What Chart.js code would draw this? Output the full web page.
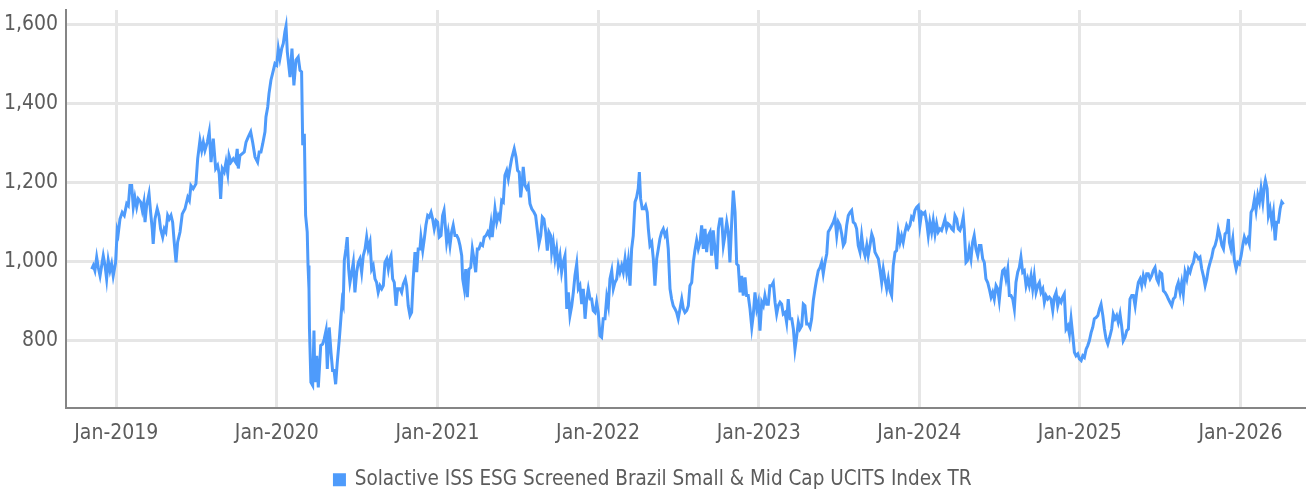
<!DOCTYPE html>
<html>
<head>
<meta charset="utf-8">
<title>Solactive ISS ESG Screened Brazil Small & Mid Cap UCITS Index TR</title>
<script src="https://cdn.jsdelivr.net/npm/chart.js@4.4.1/dist/chart.umd.min.js"></script>
<style>
    html, body { margin: 0; padding: 0; background: #fff; }
    #wrap { width: 1306px; height: 490px; position: relative; }
</style>
</head>
<body>
<div id="wrap"><canvas id="indexChart"></canvas></div>
<script>
// series name + axis ticks
const seriesName = 'Solactive ISS ESG Screened Brazil Small & Mid Cap UCITS Index TR';
const yearTicks = [2019, 2020, 2021, 2022, 2023, 2024, 2025, 2026];
const valueTicks = [800, 1000, 1200, 1400, 1600];

// dates as decimal years
const dates = [
    2018.847, 2018.857, 2018.867, 2018.878, 2018.888, 2018.899, 2018.919, 2018.930, 2018.940, 2018.950, 2018.961, 2018.971,
    2018.981, 2018.996, 2019.006, 2019.012, 2019.023, 2019.037, 2019.050, 2019.065, 2019.075, 2019.085, 2019.096, 2019.106,
    2019.116, 2019.127, 2019.137, 2019.152, 2019.162, 2019.172, 2019.179, 2019.189, 2019.204, 2019.214, 2019.224, 2019.230,
    2019.241, 2019.255, 2019.266, 2019.276, 2019.289, 2019.299, 2019.309, 2019.320, 2019.330, 2019.341, 2019.351, 2019.361,
    2019.372, 2019.382, 2019.397, 2019.411, 2019.428, 2019.445, 2019.455, 2019.465, 2019.479, 2019.496, 2019.507, 2019.521,
    2019.532, 2019.542, 2019.552, 2019.567, 2019.579, 2019.590, 2019.604, 2019.619, 2019.631, 2019.641, 2019.650, 2019.660,
    2019.672, 2019.683, 2019.694, 2019.702, 2019.714, 2019.729, 2019.743, 2019.753, 2019.760, 2019.770, 2019.785, 2019.797,
    2019.808, 2019.822, 2019.837, 2019.849, 2019.864, 2019.880, 2019.890, 2019.901, 2019.912, 2019.926, 2019.932, 2019.943,
    2019.951, 2019.963, 2019.978, 2019.988, 2019.999, 2020.009, 2020.019, 2020.030, 2020.040, 2020.050, 2020.057, 2020.065,
    2020.082, 2020.094, 2020.106, 2020.119, 2020.133, 2020.144, 2020.154, 2020.161, 2020.171, 2020.179, 2020.189, 2020.194,
    2020.200, 2020.203, 2020.212, 2020.223, 2020.231, 2020.237, 2020.248, 2020.258, 2020.273, 2020.285, 2020.295, 2020.306,
    2020.314, 2020.326, 2020.337, 2020.347, 2020.356, 2020.366, 2020.376, 2020.389, 2020.399, 2020.407, 2020.413, 2020.420,
    2020.430, 2020.438, 2020.447, 2020.455, 2020.466, 2020.476, 2020.486, 2020.497, 2020.507, 2020.517, 2020.528, 2020.538,
    2020.549, 2020.559, 2020.569, 2020.580, 2020.590, 2020.600, 2020.611, 2020.621, 2020.631, 2020.642, 2020.653, 2020.663,
    2020.673, 2020.684, 2020.694, 2020.704, 2020.711, 2020.721, 2020.731, 2020.742, 2020.752, 2020.767, 2020.777, 2020.787,
    2020.800, 2020.808, 2020.818, 2020.829, 2020.839, 2020.849, 2020.860, 2020.871, 2020.880, 2020.891, 2020.897, 2020.908,
    2020.918, 2020.928, 2020.939, 2020.949, 2020.960, 2020.970, 2020.980, 2020.991, 2021.001, 2021.011, 2021.022, 2021.032,
    2021.041, 2021.047, 2021.057, 2021.067, 2021.078, 2021.088, 2021.098, 2021.109, 2021.120, 2021.130, 2021.140, 2021.151,
    2021.157, 2021.167, 2021.176, 2021.186, 2021.196, 2021.207, 2021.217, 2021.227, 2021.238, 2021.248, 2021.258, 2021.269,
    2021.281, 2021.291, 2021.302, 2021.313, 2021.323, 2021.333, 2021.341, 2021.358, 2021.369, 2021.379, 2021.389, 2021.400,
    2021.410, 2021.420, 2021.431, 2021.441, 2021.451, 2021.462, 2021.478, 2021.489, 2021.499, 2021.509, 2021.518, 2021.528,
    2021.534, 2021.545, 2021.555, 2021.565, 2021.576, 2021.587, 2021.601, 2021.611, 2021.621, 2021.632, 2021.643, 2021.653,
    2021.663, 2021.674, 2021.684, 2021.694, 2021.705, 2021.711, 2021.721, 2021.732, 2021.742, 2021.752, 2021.763, 2021.773,
    2021.783, 2021.794, 2021.805, 2021.815, 2021.825, 2021.836, 2021.846, 2021.856, 2021.867, 2021.877, 2021.887, 2021.898,
    2021.908, 2021.919, 2021.929, 2021.939, 2021.950, 2021.960, 2021.970, 2021.981, 2021.991, 2022.001, 2022.012, 2022.022,
    2022.032, 2022.043, 2022.054, 2022.064, 2022.074, 2022.085, 2022.095, 2022.105, 2022.116, 2022.126, 2022.136, 2022.147,
    2022.157, 2022.168, 2022.178, 2022.188, 2022.199, 2022.209, 2022.219, 2022.230, 2022.240, 2022.250, 2022.257, 2022.265,
    2022.275, 2022.286, 2022.296, 2022.306, 2022.313, 2022.323, 2022.334, 2022.344, 2022.354, 2022.365, 2022.375, 2022.385,
    2022.396, 2022.406, 2022.417, 2022.427, 2022.437, 2022.448, 2022.458, 2022.468, 2022.479, 2022.489, 2022.499, 2022.510,
    2022.521, 2022.531, 2022.541, 2022.552, 2022.562, 2022.572, 2022.583, 2022.593, 2022.603, 2022.614, 2022.624, 2022.635,
    2022.645, 2022.655, 2022.666, 2022.676, 2022.686, 2022.697, 2022.707, 2022.717, 2022.728, 2022.739, 2022.749, 2022.759,
    2022.770, 2022.780, 2022.790, 2022.801, 2022.811, 2022.821, 2022.832, 2022.842, 2022.853, 2022.863, 2022.873, 2022.884,
    2022.894, 2022.904, 2022.915, 2022.925, 2022.935, 2022.946, 2022.957, 2022.966, 2022.977, 2022.988, 2022.998, 2023.008,
    2023.019, 2023.029, 2023.039, 2023.050, 2023.060, 2023.070, 2023.081, 2023.091, 2023.102, 2023.112, 2023.122, 2023.133,
    2023.143, 2023.153, 2023.164, 2023.174, 2023.184, 2023.195, 2023.206, 2023.216, 2023.226, 2023.237, 2023.247, 2023.257,
    2023.268, 2023.278, 2023.288, 2023.299, 2023.309, 2023.320, 2023.330, 2023.340, 2023.351, 2023.361, 2023.371, 2023.382,
    2023.392, 2023.402, 2023.413, 2023.424, 2023.433, 2023.444, 2023.455, 2023.465, 2023.475, 2023.486, 2023.496, 2023.506,
    2023.517, 2023.527, 2023.537, 2023.548, 2023.558, 2023.569, 2023.579, 2023.589, 2023.600, 2023.610, 2023.620, 2023.631,
    2023.641, 2023.651, 2023.662, 2023.673, 2023.682, 2023.693, 2023.704, 2023.714, 2023.724, 2023.735, 2023.745, 2023.755,
    2023.766, 2023.776, 2023.786, 2023.797, 2023.807, 2023.818, 2023.828, 2023.838, 2023.849, 2023.859, 2023.869, 2023.880,
    2023.890, 2023.900, 2023.911, 2023.921, 2023.931, 2023.942, 2023.952, 2023.962, 2023.973, 2023.984, 2023.994, 2024.004,
    2024.015, 2024.025, 2024.035, 2024.046, 2024.056, 2024.066, 2024.077, 2024.087, 2024.098, 2024.108, 2024.118, 2024.129,
    2024.139, 2024.149, 2024.160, 2024.170, 2024.180, 2024.191, 2024.202, 2024.212, 2024.222, 2024.233, 2024.243, 2024.253,
    2024.264, 2024.274, 2024.280, 2024.291, 2024.301, 2024.311, 2024.322, 2024.332, 2024.342, 2024.353, 2024.364, 2024.374,
    2024.384, 2024.395, 2024.405, 2024.415, 2024.426, 2024.436, 2024.447, 2024.457, 2024.467, 2024.478, 2024.488, 2024.498,
    2024.509, 2024.519, 2024.529, 2024.540, 2024.551, 2024.561, 2024.571, 2024.582, 2024.592, 2024.602, 2024.613, 2024.623,
    2024.633, 2024.644, 2024.654, 2024.665, 2024.675, 2024.685, 2024.696, 2024.706, 2024.716, 2024.727, 2024.738, 2024.748,
    2024.758, 2024.769, 2024.779, 2024.789, 2024.800, 2024.810, 2024.820, 2024.831, 2024.841, 2024.852, 2024.862, 2024.872,
    2024.883, 2024.893, 2024.903, 2024.914, 2024.925, 2024.935, 2024.945, 2024.956, 2024.966, 2024.976, 2024.987, 2024.997,
    2025.008, 2025.018, 2025.028, 2025.039, 2025.049, 2025.059, 2025.070, 2025.080, 2025.090, 2025.101, 2025.112, 2025.122,
    2025.132, 2025.143, 2025.153, 2025.163, 2025.174, 2025.188, 2025.198, 2025.208, 2025.219, 2025.229, 2025.239, 2025.250,
    2025.260, 2025.270, 2025.281, 2025.292, 2025.302, 2025.312, 2025.323, 2025.333, 2025.344, 2025.354, 2025.364, 2025.375,
    2025.385, 2025.395, 2025.406, 2025.416, 2025.426, 2025.437, 2025.447, 2025.457, 2025.468, 2025.479, 2025.489, 2025.499,
    2025.510, 2025.520, 2025.530, 2025.541, 2025.551, 2025.561, 2025.572, 2025.582, 2025.593, 2025.603, 2025.613, 2025.624,
    2025.634, 2025.644, 2025.655, 2025.666, 2025.676, 2025.686, 2025.697, 2025.707, 2025.717, 2025.728, 2025.738, 2025.748,
    2025.759, 2025.769, 2025.780, 2025.790, 2025.800, 2025.811, 2025.821, 2025.831, 2025.842, 2025.853, 2025.862, 2025.873,
    2025.884, 2025.894, 2025.904, 2025.915, 2025.925, 2025.931, 2025.941, 2025.952, 2025.962, 2025.973, 2025.983, 2025.993,
    2026.004, 2026.014, 2026.024, 2026.035, 2026.045, 2026.055, 2026.066, 2026.077, 2026.087, 2026.097, 2026.108, 2026.118,
    2026.128, 2026.139, 2026.149, 2026.155, 2026.166, 2026.174, 2026.184, 2026.195, 2026.205, 2026.216, 2026.226, 2026.236,
    2026.247, 2026.257, 2026.268
];

// index level (TR)
const values = [
    981, 990, 977, 1011, 985, 964, 1015, 990, 956, 1003, 977, 994,
    964, 998, 1079, 1070, 1108, 1125, 1117, 1147, 1142, 1193, 1193, 1138,
    1163, 1138, 1159, 1151, 1130, 1151, 1100, 1142, 1172, 1125, 1083, 1045,
    1108, 1134, 1117, 1083, 1062, 1083, 1075, 1117, 1108, 1117, 1100, 1049,
    998, 1049, 1075, 1121, 1134, 1163, 1155, 1193, 1185, 1197, 1261, 1307,
    1282, 1303, 1282, 1303, 1329, 1252, 1312, 1236, 1244, 1223, 1159, 1236,
    1227, 1252, 1223, 1269, 1252, 1261, 1252, 1286, 1236, 1269, 1274, 1278,
    1303, 1316, 1329, 1303, 1265, 1252, 1278, 1278, 1299, 1329, 1367, 1392,
    1426, 1460, 1485, 1502, 1498, 1540, 1515, 1540, 1553, 1583, 1597, 1532,
    1468, 1540, 1447, 1511, 1519, 1485, 1481, 1295, 1324, 1117, 1075, 990,
    931, 829, 694, 686, 825, 694, 761, 681, 787, 791, 804, 825,
    728, 833, 770, 724, 724, 689, 744, 804, 858, 901, 892, 1003,
    1032, 1062, 981, 947, 973, 998, 922, 973, 998, 1007, 973, 1015,
    1032, 1062, 1032, 1049, 981, 990, 956, 947, 922, 939, 931, 939,
    998, 1007, 981, 1007, 1015, 956, 947, 888, 931, 931, 922, 943,
    956, 939, 888, 863, 871, 956, 1024, 973, 1032, 1032, 1062, 1028,
    1058, 1092, 1117, 1113, 1125, 1108, 1083, 1104, 1100, 1062, 1066, 1117,
    1130, 1100, 1049, 1075, 1041, 1075, 1092, 1066, 1066, 1058, 1041, 1015,
    956, 931, 981, 910, 981, 985, 1032, 1007, 973, 1032, 1032, 1045,
    1041, 1062, 1066, 1075, 1066, 1096, 1062, 1134, 1100, 1117, 1108, 1155,
    1151, 1219, 1231, 1210, 1236, 1261, 1286, 1265, 1231, 1227, 1163, 1202,
    1240, 1193, 1185, 1193, 1147, 1134, 1125, 1117, 1083, 1045, 1066, 1113,
    1108, 1075, 1028, 1075, 1066, 1024, 1049, 1007, 1032, 990, 1015, 973,
    998, 1015, 880, 922, 863, 888, 922, 964, 994, 931, 939, 892,
    931, 855, 905, 931, 905, 905, 876, 871, 897, 871, 812, 808,
    855, 855, 910, 888, 956, 977, 931, 947, 956, 990, 973, 990,
    973, 1007, 973, 1003, 939, 1032, 1066, 1151, 1163, 1185, 1227, 1159,
    1134, 1134, 1142, 1125, 1083, 1041, 1049, 1007, 939, 1007, 1032, 1058,
    1075, 1083, 1066, 1075, 1032, 931, 905, 888, 880, 871, 855, 880,
    905, 880, 871, 876, 888, 939, 947, 998, 1028, 1054, 1032, 1049,
    1092, 1032, 1083, 1024, 1066, 1075, 1015, 1079, 1032, 981, 1083, 1108,
    1108, 1041, 1066, 1100, 1075, 998, 1100, 1180, 1125, 994, 990, 922,
    964, 914, 960, 914, 914, 880, 833, 863, 922, 880, 897, 825,
    897, 888, 914, 892, 892, 939, 939, 947, 897, 867, 888, 897,
    892, 867, 871, 846, 905, 855, 855, 829, 778, 812, 846, 829,
    837, 892, 888, 842, 842, 833, 855, 901, 931, 956, 977, 985,
    998, 969, 998, 1020, 1075, 1083, 1092, 1100, 1113, 1066, 1100, 1092,
    1070, 1041, 1049, 1092, 1117, 1125, 1130, 1100, 1096, 1083, 1041, 1024,
    1066, 1032, 1015, 1041, 1015, 1041, 1070, 1058, 1024, 1015, 1007, 981,
    947, 981, 956, 931, 956, 926, 914, 990, 1024, 1028, 1075, 1049,
    1066, 1049, 1075, 1092, 1083, 1092, 1113, 1108, 1130, 1138, 1142, 1092,
    1125, 1121, 1125, 1100, 1066, 1100, 1075, 1104, 1070, 1096, 1075, 1083,
    1079, 1092, 1108, 1083, 1096, 1092, 1083, 1079, 1117, 1108, 1083, 1079,
    1092, 1113, 1083, 998, 1003, 1032, 1007, 1049, 1066, 1032, 1015, 1041,
    1041, 1007, 998, 956, 947, 931, 910, 922, 905, 939, 931, 901,
    947, 977, 981, 956, 981, 914, 914, 905, 880, 947, 973, 985,
    1011, 973, 977, 939, 956, 939, 964, 931, 964, 922, 939, 947,
    922, 931, 897, 914, 905, 910, 905, 876, 910, 922, 888, 905,
    897, 910, 918, 829, 837, 816, 855, 812, 770, 761, 766, 753,
    749, 761, 757, 778, 787, 799, 820, 833, 855, 858, 863, 880,
    892, 863, 829, 804, 791, 812, 829, 867, 855, 863, 846, 867,
    837, 799, 808, 825, 829, 905, 914, 914, 888, 922, 947, 956,
    939, 964, 947, 969, 969, 956, 964, 977, 985, 956, 947, 973,
    969, 926, 922, 914, 905, 897, 888, 905, 910, 935, 947, 922,
    947, 918, 973, 956, 981, 973, 990, 998, 1020, 1015, 1007, 1011,
    981, 964, 939, 956, 981, 998, 1011, 1032, 1041, 1058, 1083, 1066,
    1041, 1032, 1070, 1075, 1108, 1049, 1032, 1058, 1003, 981, 998, 994,
    1015, 1041, 1062, 1049, 1058, 1045, 1125, 1134, 1159, 1130, 1168, 1151,
    1185, 1151, 1193, 1206, 1185, 1117, 1134, 1100, 1125, 1054, 1100, 1100,
    1134, 1151, 1145
];

const lineColor = '#4e9bfb';
const textColor = '#5c5c5c';
const fontFamily = "'DejaVu Sans Condensed', 'DejaVu Sans', sans-serif";

const points = dates.map((d, i) => ({ x: d, y: values[i] }));

const ctx = document.getElementById('indexChart').getContext('2d');
const indexChart = new Chart(ctx, {
    type: 'line',
    data: {
        datasets: [{
            label: seriesName,
            data: points,
            borderColor: lineColor,
            backgroundColor: lineColor,
            borderWidth: 3,
            pointRadius: 0,
            tension: 0,
            fill: false
        }]
    },
    options: {
        responsive: true,
        maintainAspectRatio: false,
        animation: false,
        layout: {
            // negative bottom pushes the legend row a bit lower
            padding: { top: 10, right: 0, bottom: -10, left: 0 }
        },
        plugins: {
            legend: {
                display: true,
                position: 'bottom',
                labels: {
                    color: textColor,
                    boxWidth: 10,
                    boxHeight: 10,
                    padding: 2,
                    font: { family: fontFamily, size: 20.5 }
                }
            },
            tooltip: { enabled: false }
        },
        scales: {
            x: {
                type: 'linear',
                min: 2018.687,
                max: 2026.408,
                afterBuildTicks: (scale) => {
                    scale.ticks = yearTicks.map(v => ({ value: v }));
                },
                afterFit: (scale) => {
                    scale.height = 60;
                    scale.paddingLeft = 0;
                    scale.paddingRight = 0;
                },
                grid: {
                    color: '#e6e6e6',
                    lineWidth: 3,
                    drawTicks: false
                },
                border: { display: true, color: '#858585', width: 2 },
                ticks: {
                    color: textColor,
                    padding: 13,
                    maxRotation: 0,
                    font: { family: fontFamily, size: 21 },
                    callback: (value) => 'Jan-' + value
                }
            },
            y: {
                min: 630,
                max: 1638,
                afterBuildTicks: (scale) => {
                    scale.ticks = valueTicks.map(v => ({ value: v }));
                },
                afterFit: (scale) => {
                    scale.width = 66;
                    scale.paddingTop = 0;
                    scale.paddingBottom = 0;
                },
                grid: {
                    color: '#e6e6e6',
                    lineWidth: 3,
                    drawTicks: false
                },
                border: { display: true, color: '#858585', width: 2 },
                ticks: {
                    color: textColor,
                    padding: 8,
                    font: { family: fontFamily, size: 21 },
                    callback: (value) => value.toLocaleString('en-US')
                }
            }
        }
    }
});
</script>
</body>
</html>
